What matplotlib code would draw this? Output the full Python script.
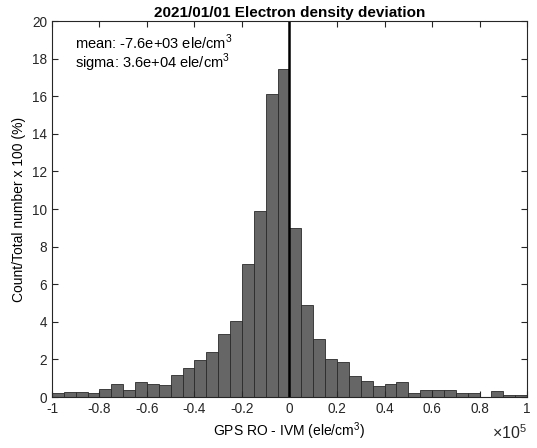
#!/usr/bin/env python3
"""Histogram of electron density deviation (GPS RO - IVM)."""

import numpy as np
import matplotlib
matplotlib.use("Agg")
import matplotlib.pyplot as plt

# bin edges in units of 1e5 ele/cm3, 40 bins of 0.05
BIN_LEFT = np.arange(-1.0, 1.0, 0.05)
PERCENT = [0.21, 0.25, 0.28, 0.21, 0.43, 0.67, 0.39, 0.78, 0.67, 0.64,
           1.19, 1.54, 1.99, 2.39, 3.37, 4.02, 7.09, 9.88, 16.1, 17.47,
           8.97, 4.88, 3.09, 2.02, 1.84, 1.13, 0.87, 0.57, 0.71, 0.78,
           0.23, 0.35, 0.35, 0.39, 0.23, 0.23, 0.02, 0.30, 0.09, 0.12]
XTICKS = [-1, -0.8, -0.6, -0.4, -0.2, 0, 0.2, 0.4, 0.6, 0.8, 1]
XTICKLABELS = ["-1", "-0.8", "-0.6", "-0.4", "-0.2", "0", "0.2", "0.4", "0.6", "0.8", "1"]
YTICKS = list(range(0, 21, 2))
MEAN_TXT = "mean: -7.6e+03 ele/cm$^3$"
SIGMA_TXT = "sigma: 3.6e+04 ele/cm$^3$"

plt.rcParams['font.family'] = ['Liberation Sans', 'DejaVu Sans']
plt.rcParams['mathtext.fontset'] = 'custom'
plt.rcParams['mathtext.rm'] = 'Liberation Sans'

fig = plt.figure(figsize=(5.37, 4.48), dpi=100)
ax = fig.add_axes([0.0968, 0.1138, 0.8846, 0.8393])

ax.bar(BIN_LEFT, PERCENT, width=0.05, align='edge',
       color='#666666', edgecolor='#2a2a2a', linewidth=0.6)
ax.plot([0, 0], [0, 20], color='k', linewidth=1.8)

ax.set_xlim(-1, 1)
ax.set_ylim(0, 20)
ax.set_xticks(XTICKS)
ax.set_xticklabels(XTICKLABELS)
ax.set_yticks(YTICKS)
ax.tick_params(direction='in', top=True, right=True, labelsize=9.8,
               length=4, width=0.8, colors='#262626')
for s in ax.spines.values():
    s.set_linewidth(0.8)
    s.set_color('#262626')

ax.set_title("2021/01/01 Electron density deviation", fontsize=11,
             fontweight='bold', pad=3)
ax.set_xlabel("GPS RO - IVM (ele/cm$^3$)", fontsize=10, labelpad=3)
ax.set_ylabel("Count/Total number x 100 (%)", fontsize=10, labelpad=4)
ax.text(1.0, -0.095, r"$\times$10$^5$", transform=ax.transAxes,
        fontsize=11.5, ha='right', va='center', color='#262626')

ax.text(0.048, 0.943, MEAN_TXT, transform=ax.transAxes, fontsize=10.5, va='center')
ax.text(0.048, 0.888, SIGMA_TXT, transform=ax.transAxes, fontsize=10.5, va='center')

plt.savefig("out.png", dpi=100)
